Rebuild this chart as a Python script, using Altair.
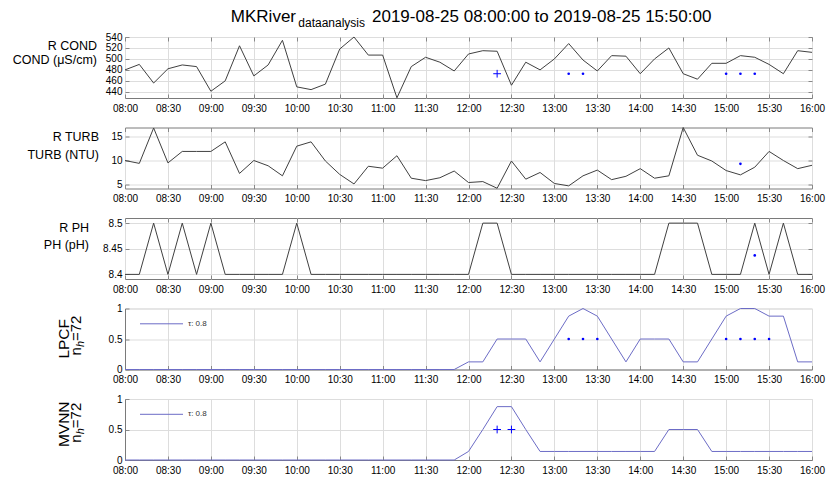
import altair as alt
import pandas as pd

# ------------------------------------------------------------------ data
TIMES = ["08:00", "08:10", "08:20", "08:30", "08:40", "08:50",
         "09:00", "09:10", "09:20", "09:30", "09:40", "09:50",
         "10:00", "10:10", "10:20", "10:30", "10:40", "10:50",
         "11:00", "11:10", "11:20", "11:30", "11:40", "11:50",
         "12:00", "12:10", "12:20", "12:30", "12:40", "12:50",
         "13:00", "13:10", "13:20", "13:30", "13:40", "13:50",
         "14:00", "14:10", "14:20", "14:30", "14:40", "14:50",
         "15:00", "15:10", "15:20", "15:30", "15:40", "15:50", "16:00"]

COND = [480, 490, 456, 482, 489, 486, 441, 460, 524, 469, 489, 534,
        449, 444, 454, 518, 540, 507, 507, 429, 486, 503, 494, 478,
        509, 515, 514, 452, 494, 480, 500, 528, 498, 478, 506, 505,
        473, 500, 520, 473, 463, 492, 492, 506, 503, 490, 473, 515, 512]

TURB = [10.0, 9.4, 16.8, 9.5, 11.9, 11.9, 11.9, 13.9, 7.3, 10.0, 8.9, 6.8,
        13.0, 13.9, 9.9, 7.1, 5.1, 8.8, 8.4, 11.0, 6.3, 5.8, 6.4, 7.8,
        5.4, 5.6, 4.2, 9.9, 6.1, 7.5, 5.2, 4.7, 6.8, 8.0, 6.0, 6.7,
        8.3, 6.3, 6.8, 16.9, 11.1, 9.9, 7.9, 7.0, 8.6, 11.9, 10.0, 8.3, 9.0]

PH = [8.4, 8.4, 8.5, 8.4, 8.5, 8.4, 8.5, 8.4, 8.4, 8.4, 8.4, 8.4,
      8.5, 8.4, 8.4, 8.4, 8.4, 8.4, 8.4, 8.4, 8.4, 8.4, 8.4, 8.4,
      8.4, 8.5, 8.5, 8.4, 8.4, 8.4, 8.4, 8.4, 8.4, 8.4, 8.4, 8.4,
      8.4, 8.4, 8.5, 8.5, 8.5, 8.4, 8.4, 8.4, 8.5, 8.4, 8.5, 8.4, 8.4]

LPCF = [0, 0, 0, 0, 0, 0, 0, 0, 0, 0, 0, 0,
        0, 0, 0, 0, 0, 0, 0, 0, 0, 0, 0, 0,
        0.125, 0.125, 0.5, 0.5, 0.5, 0.125, 0.5, 0.875, 1.0, 0.875, 0.5, 0.125,
        0.5, 0.5, 0.5, 0.125, 0.125, 0.5, 0.875, 1.0, 1.0, 0.875, 0.875, 0.125, 0.125]

MVNN = [0, 0, 0, 0, 0, 0, 0, 0, 0, 0, 0, 0,
        0, 0, 0, 0, 0, 0, 0, 0, 0, 0, 0, 0,
        0.14, 0.5, 0.875, 0.875, 0.5, 0.14, 0.14, 0.14, 0.14, 0.14, 0.14, 0.14,
        0.14, 0.14, 0.5, 0.5, 0.5, 0.14, 0.14, 0.14, 0.14, 0.14, 0.14, 0.14, 0.14]

# detected points
COND_PLUS_T = ["12:20"]
COND_PLUS_V = [473]
COND_DOT_T = ["13:10", "13:20", "15:00", "15:10", "15:20"]
COND_DOT_V = [473, 473, 473, 473, 473]
TURB_DOT_T = ["15:10"]
TURB_DOT_V = [9.3]
PH_DOT_T = ["15:20"]
PH_DOT_V = [8.437]
LPCF_DOT_T = ["13:10", "13:20", "13:30", "15:00", "15:10", "15:20", "15:30"]
LPCF_DOT_V = [0.5, 0.5, 0.5, 0.5, 0.5, 0.5, 0.5]
MVNN_PLUS_T = ["12:20", "12:30"]
MVNN_PLUS_V = [0.5, 0.5]

X_TICKS = ["08:00", "08:30", "09:00", "09:30", "10:00", "10:30", "11:00", "11:30",
           "12:00", "12:30", "13:00", "13:30", "14:00", "14:30", "15:00", "15:30", "16:00"]
COND_TICKS = [440, 460, 480, 500, 520, 540]
TURB_TICKS = [5, 10, 15]
PH_TICKS = [8.4, 8.45, 8.5]
SCORE_TICKS = [0, 0.5, 1]

TITLE_MAIN = "MKRiver"
TITLE_SUB = "dataanalysis"
TITLE_REST = "2019-08-25 08:00:00 to 2019-08-25 15:50:00"
LEGEND_TEXT = "τ: 0.8"

# ------------------------------------------------------------------ style
FONT = "Liberation Sans"
LINE_GRAY = "#404040"
SCORE_BLUE = "#6c6cc6"
MARK_BLUE = "#0000ff"
FRAME = "#7a7a7a"
GRID = "#a8a8a8"
PLOT_W = 687
PLOT_H = 61
DAY = "2019-08-25"


def stamp(hm):
    return f"{DAY}T{hm}:00"


def dt(hm):
    h, m = hm.split(":")
    return alt.DateTime(year=2019, month=8, date=25, hours=int(h), minutes=int(m))


X_DOMAIN = [dt("08:00"), dt("16:00")]
X_VALUES = [dt(h) for h in X_TICKS]

df = pd.DataFrame({"t": [stamp(h) for h in TIMES], "cond": COND, "turb": TURB,
                   "ph": PH, "lpcf": LPCF, "mvnn": MVNN})


def pts(times, vals):
    return pd.DataFrame({"t": [stamp(h) for h in times], "v": vals})


def xs(axis):
    return alt.X("t:T", scale=alt.Scale(domain=X_DOMAIN, nice=False), axis=axis)


def ys(field, dom, axis):
    return alt.Y(f"{field}:Q", scale=alt.Scale(domain=dom, nice=False, zero=False), axis=axis)


def bottom_axis():
    return alt.Axis(orient="bottom", values=X_VALUES, format="%H:%M", labelFlush=False,
                    labelOverlap=False, offset=-4, tickSize=4, labelPadding=5, grid=True,
                    domain=False, title=None)


def left_axis(vals):
    return alt.Axis(orient="left", values=vals, format=".2~f", labelFlush=False,
                    labelOverlap=False, offset=-4, tickSize=4, labelPadding=3, grid=True,
                    domain=False, title=None)


def top_axis():
    return alt.Axis(orient="top", values=X_VALUES, labels=False, offset=-4, tickSize=4,
                    grid=False, domain=False, title=None)


def right_axis(vals):
    return alt.Axis(orient="right", values=vals, labels=False, offset=-4, tickSize=4,
                    grid=False, domain=False, title=None)


def frame_x():
    return alt.Axis(orient="bottom", values=X_VALUES, labels=False, ticks=False, grid=False,
                    domain=True, domainColor=FRAME, title=None)


def frame_y(vals):
    return alt.Axis(orient="left", values=vals, labels=False, ticks=False, grid=False,
                    domain=True, domainColor=FRAME, title=None)


def one():
    return alt.Chart(pd.DataFrame({"k": [0]}))


def label(text, x, y, size=12.5, align="right", angle=0, baseline="alphabetic", style="normal"):
    kw = dict(text=text, align=align, baseline=baseline, fontSize=size, font=FONT,
              color="black", fontStyle=style)
    if angle:
        kw["angle"] = angle
    return one().mark_text(**kw).encode(x=alt.value(x), y=alt.value(y))


def plus_layer(times, vals, dom):
    return alt.Chart(pts(times, vals)).mark_point(
        shape="M-1,0L1,0M0,-1L0,1", size=60, filled=False, color=MARK_BLUE, strokeWidth=1, opacity=1
    ).encode(x=xs(None), y=ys("v", dom, None))


def dot_layer(times, vals, dom):
    return alt.Chart(pts(times, vals)).mark_point(
        shape="circle", size=7, filled=True, color=MARK_BLUE, opacity=1
    ).encode(x=xs(None), y=ys("v", dom, None))


def panel(field, dom, ticks, color, boxed, extra):
    line = alt.Chart(df).mark_line(color=color, strokeWidth=1).encode(
        x=xs(bottom_axis()), y=ys(field, dom, left_axis(ticks)))
    if boxed:
        ghost = alt.Chart(df).mark_line(opacity=0).encode(
            x=xs(top_axis()), y=ys(field, dom, right_axis(ticks)))
    else:
        ghost = alt.Chart(df).mark_line(opacity=0).encode(
            x=xs(frame_x()), y=ys(field, dom, frame_y(ticks)))
    ch = alt.layer(line, ghost, *extra).resolve_axis(x="independent", y="independent")
    props = dict(width=PLOT_W, height=PLOT_H)
    if boxed:
        props["view"] = alt.ViewBackground(stroke=FRAME, strokeWidth=1)
    return ch.properties(**props)


def legend(y):
    rule = one().mark_rule(color=SCORE_BLUE, strokeWidth=1).encode(
        x=alt.value(15), x2=alt.value(58), y=alt.value(y))
    txt = one().mark_text(text=LEGEND_TEXT, align="left", baseline="middle", fontSize=8,
                          font=FONT, color="#333333").encode(x=alt.value(63), y=alt.value(y))
    return [rule, txt]


COND_DOM = [min(COND) - 0.3, max(COND)]
TURB_DOM = [min(TURB) - 0.05, max(TURB)]
PH_DOM = [8.391, 8.51]
SCORE_DOM = [0, 1]

p1 = panel("cond", COND_DOM, COND_TICKS, LINE_GRAY, True, [
    plus_layer(COND_PLUS_T, COND_PLUS_V, COND_DOM),
    dot_layer(COND_DOT_T, COND_DOT_V, COND_DOM),
    label("R COND", -28, 13.3),
    label("COND (μS/cm)", -28, 26.6),
    label(TITLE_MAIN, 171, -15, size=17),
    label(TITLE_SUB, 240, -10, size=12),
    label(TITLE_REST, 247, -15, size=17, align="left"),
])

p2 = panel("turb", TURB_DOM, TURB_TICKS, LINE_GRAY, True, [
    dot_layer(TURB_DOT_T, TURB_DOT_V, TURB_DOM),
    label("R TURB", -26, 13.7),
    label("TURB (NTU)", -26, 31.3),
])

p3 = panel("ph", PH_DOM, PH_TICKS, LINE_GRAY, True, [
    dot_layer(PH_DOT_T, PH_DOT_V, PH_DOM),
    label("R PH", -36, 13.7),
    label("PH (pH)", -36, 31.3),
])


def score_label(name, cx, cy, ny):
    return [
        label(name, -56, cy, size=15.5, align="center", angle=270),
        label("n", -44, ny, size=15, align="left", angle=270),
        label("h", -41, ny - 8.5, size=11, align="left", angle=270, style="italic"),
        label("=72", -44, ny - 14.5, size=15, align="left", angle=270),
    ]


p4 = panel("lpcf", SCORE_DOM, SCORE_TICKS, SCORE_BLUE, False, [
    dot_layer(LPCF_DOT_T, LPCF_DOT_V, SCORE_DOM),
    *legend(15.3),
    *score_label("LPCF", -62, 30.3, 47),
])

p5 = panel("mvnn", SCORE_DOM, SCORE_TICKS, SCORE_BLUE, False, [
    plus_layer(MVNN_PLUS_T, MVNN_PLUS_V, SCORE_DOM),
    *legend(15.3),
    *score_label("MVNN", -62, 25.3, 43.7),
])

chart = alt.vconcat(p1, p2, p3, p4, p5, spacing=29.5, bounds="flush").properties(
    padding={"left": 12, "top": 7, "right": 0, "bottom": 0}
).configure_view(stroke="transparent").configure_axis(
    labelFont=FONT, labelFontSize=12, labelColor="#111111", tickColor="#555555",
    gridColor=GRID, gridDash=[1, 2], gridWidth=1, gridOpacity=1
).configure(background="white")

chart.save("out.html", embed_options={"renderer": "svg", "actions": False})
